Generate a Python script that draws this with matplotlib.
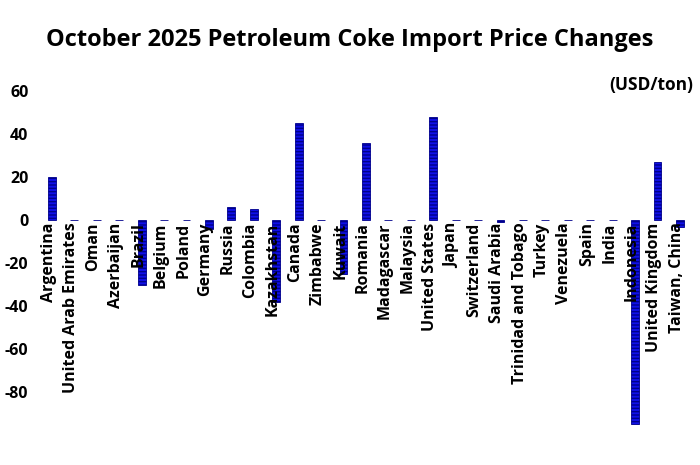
import matplotlib
matplotlib.use("Agg")
import matplotlib.pyplot as plt

categories = ["Argentina", "United Arab Emirates", "Oman", "Azerbaijan", "Brazil", "Belgium",
              "Poland", "Germany", "Russia", "Colombia", "Kazakhstan", "Canada", "Zimbabwe",
              "Kuwait", "Romania", "Madagascar", "Malaysia", "United States", "Japan",
              "Switzerland", "Saudi Arabia", "Trinidad and Tobago", "Turkey", "Venezuela",
              "Spain", "India", "Indonesia", "United Kingdom", "Taiwan, China"]
values = [20, 0, 0, 0, -30, 0, 0, -4, 6, 5, -38, 45, 0, -25, 36, 0, 0, 48, 0, 0, -1,
          0, 0, 0, 0, 0, -95, 27, -3]
yticks = [-80, -60, -40, -20, 0, 20, 40, 60]

plt.rcParams['font.family'] = ['Open Sans', 'DejaVu Sans']
fig = plt.figure(figsize=(7, 4.65), dpi=100)
ax = fig.add_axes([0.0486, 0.078, 0.942, 0.735])
x = list(range(len(categories)))
ax.bar(x, values, width=0.35, color='#1010e8', edgecolor='#00008b', linewidth=0.6,
       hatch='-----', zorder=2)
ax.set_xlim(-0.8, len(categories) - 0.4)
ax.set_ylim(-97, 62)
ax.set_yticks(yticks)
ax.set_yticklabels([str(v) for v in yticks], fontsize=11.5, fontweight='bold')
ax.tick_params(axis='y', length=0, pad=4)
ax.tick_params(axis='x', length=0)
ax.set_xticks([])
for s in ax.spines.values():
    s.set_visible(False)
for xi, c in zip(x, categories):
    ax.text(xi - 0.15, -1, c, rotation=90, ha='center', va='top', fontsize=11.5,
            fontweight='bold', zorder=3)
fig.text(0.5, 0.914, "October 2025 Petroleum Coke Import Price Changes", ha='center',
         va='center', fontsize=17, fontweight='bold')
fig.text(0.99, 0.817, "(USD/ton)", ha='right', va='center', fontsize=12.5, fontweight='bold')
fig.savefig("out.png")
